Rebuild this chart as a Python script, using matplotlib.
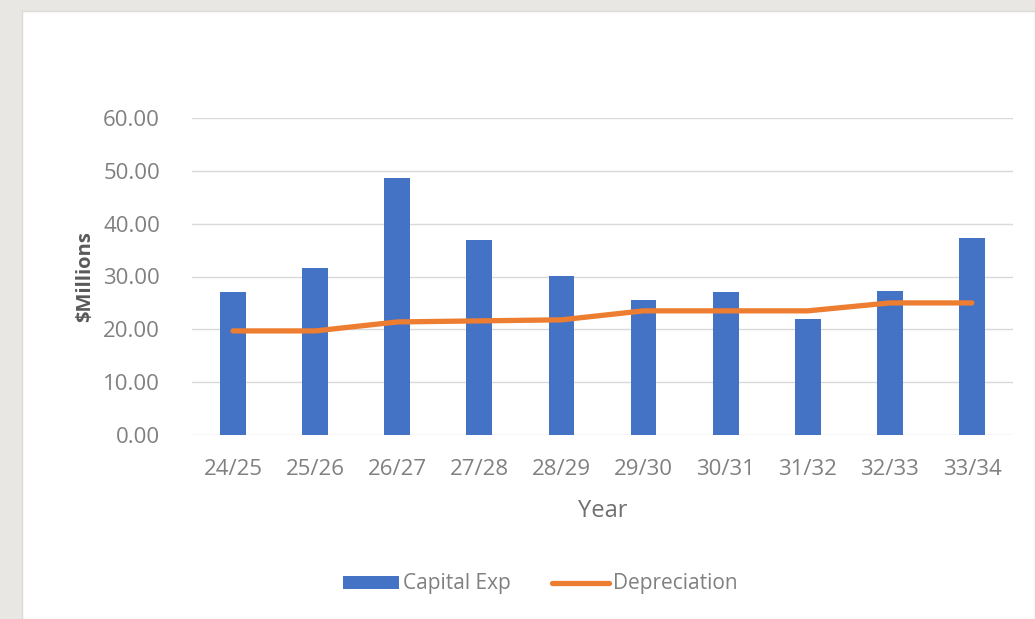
import numpy as np
import matplotlib
matplotlib.use("Agg")
import matplotlib.pyplot as plt
from matplotlib.patches import Rectangle

plt.rcParams["font.family"] = ["Open Sans", "DejaVu Sans"]

years = ["24/25", "25/26", "26/27", "27/28", "28/29",
         "29/30", "30/31", "31/32", "32/33", "33/34"]
capital_exp = [27.1, 31.6, 48.7, 36.9, 30.1, 25.6, 27.1, 22.0, 27.3, 37.3]
depreciation = [19.7, 19.7, 21.4, 21.6, 21.8, 23.5, 23.5, 23.5, 25.0, 25.0]
yticks = [0, 10, 20, 30, 40, 50, 60]

BLUE = "#4472C4"
ORANGE = "#ED7D31"
TEXT = "#808080"

fig = plt.figure(figsize=(10.35, 6.19), dpi=100)
fig.patch.set_facecolor("#e9e7e3")

# white card behind the chart
fig.add_artist(Rectangle((22 / 1035, 0), 1 - 22 / 1035, 1 - 11 / 619,
                         transform=fig.transFigure, facecolor="white",
                         edgecolor="#dcdad6", linewidth=1, zorder=0))

ax = fig.add_axes([192 / 1035, 1 - 435 / 619, 821 / 1035, (435 - 118) / 619])
ax.set_facecolor("none")

x = np.arange(len(years))
bars = ax.bar(x, capital_exp, width=0.315, color=BLUE, label="Capital Exp",
              zorder=2)
line, = ax.plot(x, depreciation, color=ORANGE, linewidth=3.8,
                solid_capstyle="round", label="Depreciation", zorder=3)

ax.set_xlim(-0.5, len(years) - 0.5)
ax.set_ylim(0, 60)
ax.set_yticks(yticks)
ax.set_yticklabels([f"{v:.2f}" for v in yticks])
ax.set_xticks(x)
ax.set_xticklabels(years)

ax.grid(axis="y", color="#d9d9d9", linewidth=1, zorder=0)
ax.set_axisbelow(True)
for s in ax.spines.values():
    s.set_visible(False)
ax.tick_params(axis="both", length=0, labelsize=16, labelcolor=TEXT)
ax.tick_params(axis="y", pad=23)
ax.tick_params(axis="x", pad=17)

ax.set_ylabel("$Millions", fontsize=14.5, fontweight="bold", color="#595959",
              labelpad=6)
ax.set_xlabel("Year", fontsize=17, color="#6f6f6f", labelpad=14)

leg = fig.legend([bars, line], ["Capital Exp", "Depreciation"],
                 loc="center", bbox_to_anchor=(540 / 1035, 1 - 584 / 619),
                 ncol=2, frameon=False, fontsize=15, handlelength=2.7,
                 handleheight=0.6, handletextpad=0.2, columnspacing=2.0)
for t in leg.get_texts():
    t.set_color(TEXT)

fig.savefig("out.png", dpi=100, facecolor=fig.get_facecolor())
